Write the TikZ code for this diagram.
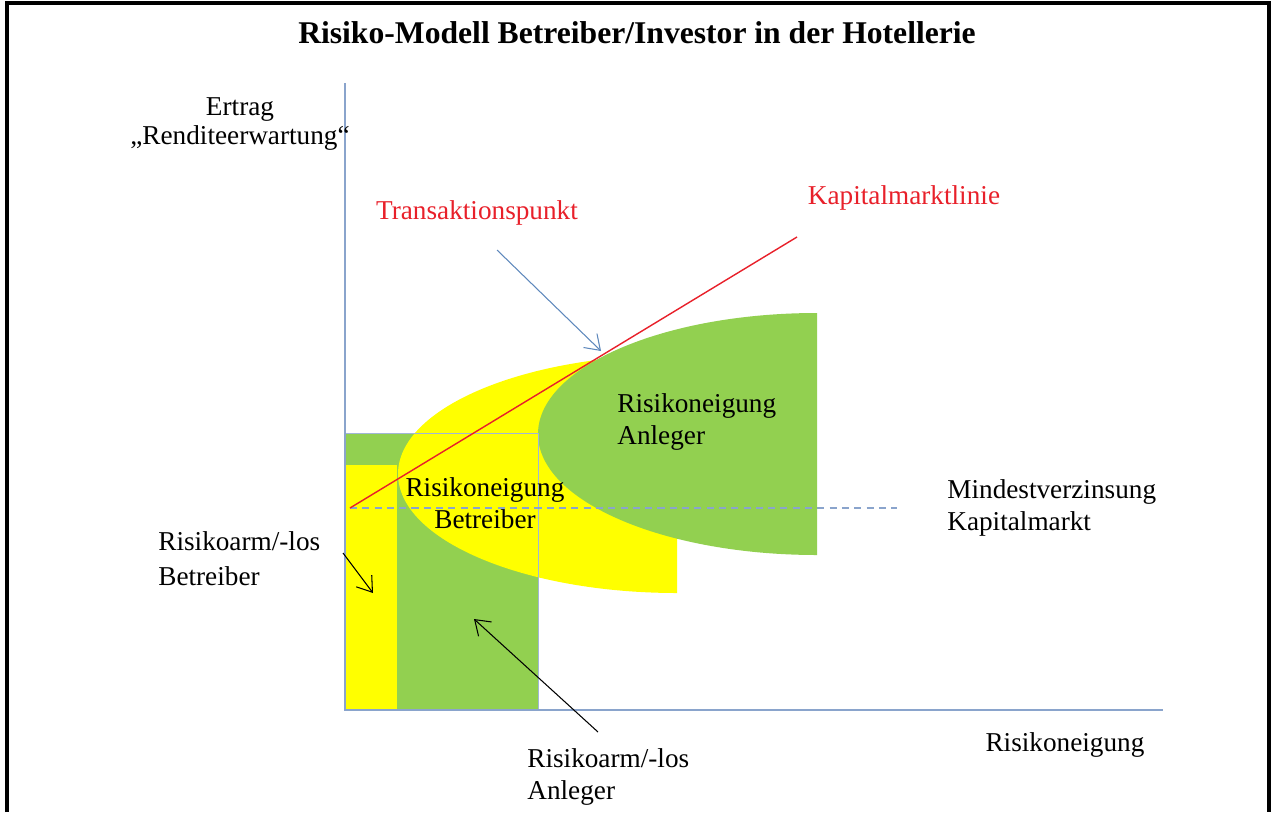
\documentclass[tikz,border=0pt]{standalone}
\usepackage{fontspec}
\setmainfont{Liberation Serif}
\usepackage{xcolor}
\usepackage{tikz}
\usetikzlibrary{arrows.meta}

\definecolor{hellgruen}{HTML}{92D050}
\definecolor{gelb}{HTML}{FFFF00}
\definecolor{achse}{HTML}{8AA4CC}
\definecolor{rotlinie}{HTML}{E8202A}
\definecolor{pfeilblau}{HTML}{5E88BC}

\begin{document}
\begin{tikzpicture}[x=0.02cm, y=-0.02cm,
    lbl/.style={font=\fontsize{15.5}{18}\selectfont, inner sep=0pt},
    rot/.style={lbl, text=rotlinie},
    pfeil/.style={-{Straight Barb[length=8pt, width=11pt]}, line width=0.6pt}]
  \useasboundingbox (0,0) rectangle (1275,812);
  % Rahmen (unten offen)
  \draw[line width=2pt] (7,812) -- (7,3) -- (1269,3) -- (1269,812);
  \node[font=\fontsize{18}{20}\selectfont\bfseries] (titel) at (637,33)
    {Risiko-Modell Betreiber/Investor in der Hotellerie};

  % Flaechen
  \fill[hellgruen] (345,433) rectangle (538,710);
  \fill[gelb] (345,465) rectangle (397,710);
  \fill[gelb] (677,593) arc[start angle=90, end angle=270, x radius=279, y radius=119] -- cycle;
  \fill[hellgruen] (817,555) arc[start angle=90, end angle=270, x radius=279, y radius=121] -- cycle;
  \draw[achse!80, line width=0.4pt] (345,433) rectangle (538,710);

  % Linien
  \draw[achse, dash pattern=on 4pt off 3pt, line width=0.7pt] (350,508) -- (897,508);
  \draw[rotlinie, line width=0.8pt] (350,508) -- (797,237);
  \draw[achse, line width=0.9pt] (345,83) -- (345,710) -- (1163,710);

  % Beschriftungen
  \node[lbl, align=center] (ertrag) at (240,124) {Ertrag\\[-2pt]„Renditeerwartung“};
  \node[rot] (tp) at (477,213) {Transaktionspunkt};
  \node[rot] (kml) at (904,198) {Kapitalmarktlinie};
  \node[lbl, align=left, anchor=west] (anleger) at (617,422) {Risikoneigung\\Anleger};
  \node[lbl, align=center] (betreiber) at (485,503) {Risikoneigung\\Betreiber};
  \node[lbl, align=left, anchor=west] (mindest) at (947,508) {Mindestverzinsung\\Kapitalmarkt};
  \node[lbl, align=left, anchor=west] (armbetr) at (158,559) {Risikoarm/-los\\[2pt]Betreiber};
  \node[lbl, align=left, anchor=west] (armanl) at (527,777) {Risikoarm/-los\\Anleger};
  \node[lbl] (xachse) at (1065,745) {Risikoneigung};

  % Pfeile
  \coordinate (tpstart) at (497,250);
  \coordinate (tpziel) at (601,351);
  \coordinate (bstart) at (343,553);
  \coordinate (bziel) at (373,593);
  \coordinate (astart) at (598,732);
  \coordinate (aziel) at (474,619);
  \draw[pfeil, pfeilblau] (tpstart) -- (tpziel);
  \draw[pfeil] (bstart) -- (bziel);
  \draw[pfeil] (astart) -- (aziel);
\end{tikzpicture}
\end{document}
